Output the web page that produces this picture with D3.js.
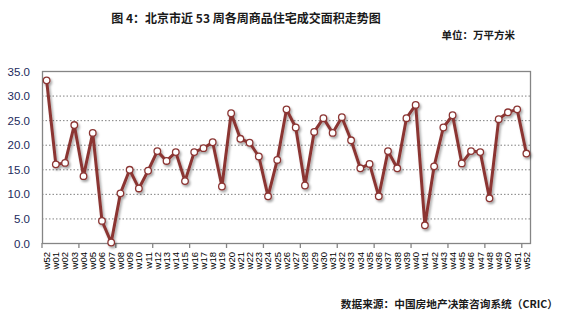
<!DOCTYPE html>
<html><head><meta charset="utf-8">
<script src="https://cdn.jsdelivr.net/npm/d3@7"></script>
<style>body{margin:0;background:#fff}svg{display:block}</style>
</head><body>
<svg id="c" width="571" height="315"></svg>
<script>
const weeks = ["w52","w01","w02","w03","w04","w05","w06","w07","w08","w09","w10","w11","w12","w13","w14","w15","w16","w17","w18","w19","w20","w21","w22","w23","w24","w25","w26","w27","w28","w29","w30","w31","w32","w33","w34","w35","w36","w37","w38","w39","w40","w41","w42","w43","w44","w45","w46","w47","w48","w49","w50","w51","w52"];
const area = [33.1,16.0,16.3,24.0,13.6,22.4,4.5,0.1,10.1,14.9,11.1,14.7,18.7,16.7,18.5,12.6,18.5,19.3,20.5,11.5,26.4,21.2,20.4,17.6,9.5,16.9,27.2,23.5,11.7,22.6,25.4,22.4,25.6,20.9,15.2,16.1,9.5,18.7,15.2,25.4,28.1,3.6,15.6,23.5,26.0,16.2,18.7,18.5,9.1,25.2,26.6,27.2,18.2];
const yTicks = [0,5,10,15,20,25,30,35];
const title = "图 4：北京市近 53 周各周商品住宅成交面积走势图";
const unit = "单位：万平方米";
const source = "数据来源：中国房地产决策咨询系统（CRIC）";

const svg = d3.select("#c");
const L = 42, R = 531, T = 71, B = 243;
const idx = d3.range(weeks.length);
const x = d3.scaleBand().domain(idx).range([L, R]).padding(0);
const y = d3.scaleLinear().domain([0, 35]).range([B, T]);
const cjk = "'Noto Sans CJK SC', sans-serif";

const defs = svg.append("defs");
const f = defs.append("filter").attr("id","sh").attr("x","-10%").attr("y","-10%").attr("width","120%").attr("height","130%");
f.append("feDropShadow").attr("dx",1.5).attr("dy",2).attr("stdDeviation",1.2).attr("flood-color","#000").attr("flood-opacity",0.35);

// grid
svg.append("g").selectAll("line").data(yTicks.filter(d => d > 0 && d < 35)).join("line")
  .attr("x1", L).attr("x2", R).attr("y1", d => y(d) + 0.5).attr("y2", d => y(d) + 0.5)
  .attr("stroke", "#808080").attr("stroke-width", 1).attr("stroke-dasharray", "1.5,2");

// border
svg.append("rect").attr("x", L + 0.5).attr("y", T + 0.5).attr("width", R - L - 1).attr("height", B - T)
  .attr("fill", "none").attr("stroke", "#858585").attr("stroke-width", 1.3);

// y axis labels
svg.append("g").selectAll("text").data(yTicks).join("text")
  .attr("x", 30).attr("y", d => y(d) + 4.5).attr("text-anchor", "end")
  .attr("font-family", "Arial, 'Liberation Sans', sans-serif").attr("font-size", 11.5)
  .attr("fill", "#1b2a5c").text(d => d.toFixed(1));

// x tick marks at every 4th boundary
const bounds = d3.range(0, weeks.length + 1, 4);
svg.append("g").selectAll("line").data(bounds).join("line")
  .attr("x1", d => x.step() * d + L).attr("x2", d => x.step() * d + L)
  .attr("y1", B).attr("y2", B + 5).attr("stroke", "#858585").attr("stroke-width", 1.3);

// x labels
svg.append("g").selectAll("text").data(idx).join("text")
  .attr("transform", d => `translate(${x(d) + x.bandwidth()/2 + 3.4},${B + 9}) rotate(-90)`)
  .attr("text-anchor", "end")
  .attr("font-family", "Arial, 'Liberation Sans', sans-serif").attr("font-size", 9.5)
  .attr("fill", "#000").text(d => weeks[d]);

// line
const line = d3.line().x((d, i) => x(i) + x.bandwidth()/2).y(d => y(d));
const g = svg.append("g").attr("filter", "url(#sh)");
g.append("path").datum(area).attr("d", line).attr("fill", "none")
  .attr("stroke", "#8b3533").attr("stroke-width", 3).attr("stroke-linejoin", "round");
g.selectAll("circle").data(area).join("circle")
  .attr("cx", (d, i) => x(i) + x.bandwidth()/2).attr("cy", d => y(d)).attr("r", 3.3)
  .attr("fill", "#fff").attr("stroke", "#8b3533").attr("stroke-width", 1.3);

// texts
svg.append("text").attr("x", 246).attr("y", 23).attr("text-anchor", "middle")
  .attr("font-family", cjk).attr("font-weight", "bold").attr("font-size", 12).attr("fill", "#1a1a1a").text(title);
svg.append("text").attr("x", 515).attr("y", 39).attr("text-anchor", "end")
  .attr("font-family", cjk).attr("font-weight", "bold").attr("font-size", 10.5).attr("fill", "#1a1a1a").text(unit);
svg.append("text").attr("x", 558).attr("y", 308).attr("text-anchor", "end")
  .attr("font-family", cjk).attr("font-weight", "bold").attr("font-size", 10.7).attr("fill", "#1a1a1a").text(source);
</script>
</body></html>
